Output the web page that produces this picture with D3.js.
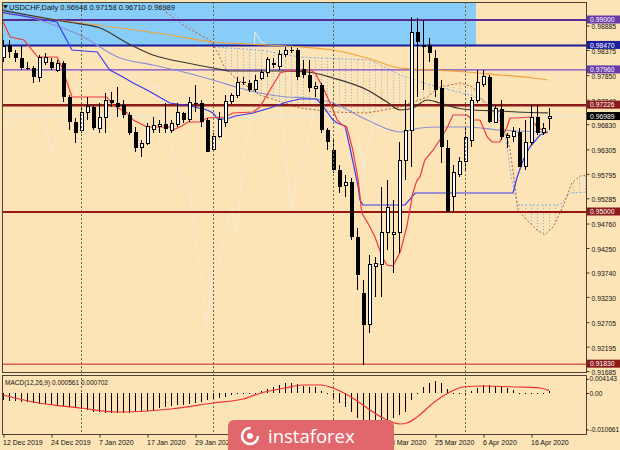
<!DOCTYPE html>
<html><head><meta charset="utf-8">
<script src="https://cdn.jsdelivr.net/npm/d3@7"></script>
<style>body{margin:0;background:#fde4b6}svg{display:block}text{font-family:"Liberation Sans",Arial,sans-serif}</style>
</head><body><svg id="c" width="620" height="450"></svg>
<script>
// ---------- DATA ----------
const open=[.98229,.98479,.98313,.98208,.98000,.98000,.97792,.98125,.98125,.97958,
.98104,.97396,.96875,.96708,.97083,.97188,.96750,.96979,.97333,.97271,
.97229,.97021,.96667,.96354,.96417,.96729,.96771,.96833,.96708,.96833,
.97063,.96917,.97271,.97271,.96917,.96292,.96563,.96875,.97292,.97417,
.97708,.97688,.97542,.97771,.97896,.98104,.98021,.98271,.98375,.98375,
.97979,.97854,.97583,.97646,.96708,.96292,.95875,.95542,.95625,.94479,
.93313,.92646,.93875,.93896,.94563,.94521,.94563,.96083,.96708,.98750,
.98438,.98479,.98208,.97583,.96333,.95313,.95771,.96042,.96500,.97333,
.97646,.97813,.96875,.97146,.96542,.96563,.96667,.95938,.96438,.96979,
.96646,.96948];
const high=[.98583,.98583,.98375,.98458,.98125,.98042,.98271,.98313,.98208,.98167,
.98146,.97438,.96958,.97188,.97396,.97229,.97271,.97479,.97500,.97604,
.97333,.97083,.96771,.96500,.96854,.96979,.96917,.97271,.96917,.97271,
.97083,.97396,.97646,.97333,.96958,.96646,.97083,.97438,.97479,.97813,
.97813,.97750,.97854,.97958,.98229,.98208,.98375,.98438,.98438,.98417,
.98167,.98167,.97708,.97688,.96750,.96500,.95979,.95771,.95708,.94667,
.93583,.94104,.94063,.95521,.95667,.95250,.96458,.97333,.99063,.99042,
.99000,.98625,.98375,.97750,.96500,.95979,.96146,.96750,.97396,.97958,
.97958,.97854,.97229,.97333,.96646,.96771,.96750,.96917,.97229,.97229,
.96854,.97158];
const low=[.98125,.98208,.98125,.97958,.97958,.97688,.97708,.98063,.97958,.97917,
.97292,.96708,.96438,.96646,.96917,.96708,.96646,.96646,.97188,.96979,
.96958,.96604,.96250,.96146,.96396,.96646,.96646,.96646,.96646,.96771,
.96854,.96875,.97083,.96771,.96250,.96292,.96542,.96771,.97250,.97375,
.97646,.97500,.97500,.97750,.97813,.98000,.97958,.98229,.98313,.97750,
.97792,.97500,.97396,.96646,.96292,.95813,.95396,.95313,.94417,.93375,
.91813,.92479,.93229,.93229,.94208,.93729,.94146,.95667,.95938,.97396,
.97542,.98125,.97396,.96021,.95000,.95000,.95729,.95875,.96354,.97271,
.97604,.96854,.96854,.96500,.96333,.96458,.95938,.95875,.96396,.96604,
.96604,.96710];
const close=[.98438,.98333,.98208,.98000,.97979,.97813,.98229,.98229,.98000,.98104,
.97396,.96875,.96646,.97083,.97208,.96750,.96979,.97333,.97271,.97188,
.97021,.96646,.96333,.96417,.96771,.96792,.96833,.96729,.96854,.97063,
.96917,.97271,.97250,.96875,.96250,.96563,.96917,.97292,.97417,.97708,
.97688,.97542,.97750,.97896,.98167,.98063,.98271,.98375,.98354,.97813,
.97854,.97583,.97625,.96708,.96458,.95875,.95521,.95625,.94479,.93688,
.92646,.93896,.93917,.94563,.95104,.94563,.96083,.96708,.98750,.98542,
.98479,.98313,.97542,.96354,.95000,.95813,.96042,.96542,.97333,.97688,
.97813,.96875,.97146,.96563,.96604,.96667,.95938,.96438,.96979,.96646,
.96750,.96989];

const macdMain=[-0.00205,-0.00234,-0.00234,-0.00263,-0.00263,-0.00292,-0.00322,-0.00322,-0.00351,-0.00380,
-0.00380,-0.00409,-0.00439,-0.00468,-0.00497,-0.00556,-0.00556,-0.00585,-0.00585,-0.00585,
-0.00585,-0.00585,-0.00556,-0.00556,-0.00526,-0.00497,-0.00439,-0.00409,-0.00380,-0.00351,
-0.00351,-0.00322,-0.00292,-0.00263,-0.00205,-0.00175,-0.00146,-0.00117,-0.00058,-0.00029,
0.00000,0.00015,0.00029,0.00058,0.00117,0.00175,0.00234,0.00292,0.00292,0.00263,
0.00205,0.00175,0.00175,0.00058,0.00000,-0.00146,-0.00292,-0.00409,-0.00556,-0.00731,
-0.00789,-0.00848,-0.00848,-0.00819,-0.00789,-0.00731,-0.00643,-0.00556,-0.00205,0.00000,
0.00175,0.00292,0.00351,0.00292,0.00117,0.00029,0.00029,0.00029,0.00058,0.00146,
0.00234,0.00234,0.00205,0.00175,0.00146,0.00088,0.00029,0.00029,0.00029,0.00029,
0.00029,0.00056];
const macdSignal=[[0,-0.00058],[5,-0.00263],[13,-0.00439],[19,-0.00556],[24,-0.00526],[28,-0.00468],
[35,-0.00292],[40,-0.00175],[43,0],[47,0.00146],[50,0.00234],[53,0.00234],[55,0.00146],[58,-0.00117],
[60.7,-0.00439],[63.3,-0.00731],[66.2,-0.00906],[67.3,-0.00877],[69,-0.00702],[71.7,-0.00292],
[74.5,0.00029],[76.7,0.00175],[80,0.00205],[85.7,0.00175],[89.5,0.00146],[91,0.00070]];

const tenkan=[[-0.5,.99104],[1.2,.98646],[3.5,.98583],[5.8,.98229],[9,.98229],[9.8,.98021],[11.5,.97396],
[17.3,.97396],[18.3,.97229],[20.7,.97063],[21.7,.96917],[24,.96771],[27.8,.96771],[28.3,.96708],
[29.8,.96792],[30.8,.96875],[32.8,.96875],[34,.96958],[37,.96979],[38.3,.97063],[41.7,.97083],
[42.8,.97188],[45,.97646],[46.2,.97896],[47.3,.97938],[51.2,.97958],[52,.97896],[53.3,.97604],
[54.5,.97271],[55.7,.96917],[56.5,.96813],[57.3,.96771],[58.3,.96292],[59.2,.95667],[59.8,.94979],
[60.8,.94771],[62,.94479],[63.2,.94063],[64,.93896],[65,.93875],[66.2,.94167],[67.3,.94688],
[68.3,.95396],[69,.95667],[69.5,.95729],[70.3,.96083],[71.7,.96292],[72.8,.96500],[74,.96750],
[75,.97021],[77.3,.97021],[78.3,.96917],[79.5,.96917],[80.7,.96563],[81.5,.96458],[82.8,.96458],
[84,.96771],[84.5,.96958],[85.7,.96958],[87.8,.96979],[89,.96771],[90.8,.96646]];
const kijun=[[-0.5,.99167],[9,.98958],[11.5,.98375],[15.7,.98333],[17.8,.97958],[20,.97813],[21.7,.97688],
[24,.97542],[27.8,.97271],[31.2,.97208],[34,.97125],[35,.97063],[35.8,.96938],[37.3,.96938],
[38.7,.97000],[41.7,.97063],[44.5,.97167],[47.3,.97292],[49.5,.97354],[52.3,.97354],[53.3,.97208],
[55,.96917],[55.7,.96854],[57,.96792],[57.8,.96354],[59.2,.95521],[59.5,.95250],[60,.95146],
[67,.95146],[68.7,.95396],[85,.95396],[85.7,.95729],[86.7,.96083],[87.8,.96354],[89.5,.96604],[90.8,.96667]];
const maDark=[[-0.5,.99208],[10.7,.98958],[16.2,.98833],[20.7,.98521],[25,.98271],[30.7,.98104],[35,.98000],
[37.8,.97938],[46.2,.97938],[50.7,.97917],[55,.97792],[60.7,.97542],[64,.97292],[66.2,.97125],
[68.3,.97167],[70.7,.97333],[72.8,.97271],[75.7,.97167],[78.3,.97125],[82.8,.97104],[85.7,.97083],[90.8,.97063]];
const maSlow=[[-0.5,.99250],[5,.99042],[12.8,.98688],[19.5,.98208],[25,.98063],[30.7,.97896],[35,.97750],
[39.5,.97583],[42.8,.97479],[47.3,.97396],[50.7,.97375],[55,.97271],[60.7,.96917],[66.2,.96667],
[69.5,.96750],[72.8,.96771],[77.3,.96771],[82.8,.96708],[90.8,.96667]];
const maOrange=[[-0.5,.99146],[19.5,.98833],[27.8,.98688],[35,.98542],[40.7,.98500],[49.5,.98438],[55,.98375],
[60.7,.98208],[66.2,.98000],[71.7,.97958],[77.3,.97917],[82.8,.97854],[88.3,.97792],[90.8,.97750]];
const spanA=[[25.3,.99417],[28.7,.99104],[32,.98792],[35,.98438],[42.8,.98375],[49.5,.98229],[61.2,.98167],
[66.2,.97854],[71.2,.97646],[77.8,.97438],[80,.97333],[82.5,.97125],[83.7,.96600],[84.8,.95667],
[85.7,.95146],[92.8,.95146],[94.5,.95396],[97.8,.95417]];
const spanB=[[24.5,.99417],[30.7,.98833],[34.5,.98583],[35.7,.98333],[37,.98000],[38.7,.97792],[42.8,.97438],
[49.5,.97167],[55,.97083],[60.7,.97063],[66.2,.97188],[70.7,.97396],[72.8,.97604],[76.2,.97688],
[78.3,.97604],[80.7,.97188],[82.3,.96979],[83.7,.96708],[84.5,.96292],[85.3,.95604],[85.8,.95042],
[87.3,.94833],[89,.94625],[90.3,.94521],[91.7,.94688],[93.3,.95104],[94.8,.95604],[96.2,.95750],[97.8,.95771]];

const priceTicks=[0.98885,0.98375,0.97850,0.97340,0.96830,0.96305,0.95795,0.95285,0.94760,0.94250,0.93740,0.93230,0.92705,0.92195,0.91685];
const levelValues=[0.99,0.9847,0.9796,0.97226,0.95,0.9183];
const macdTicks=[0.004143,0,-0.010661];
const macdTickLabels=["0.004143","0.00","-0.010661"];
// labels at 10 Feb, 20 Feb and 3 Mar are hidden under the watermark in the reference
const xTickIdx=[0,8,16,24,32,64,72,80,88];
const xTickLabels=["12 Dec 2019","24 Dec 2019","7 Jan 2020","17 Jan 2020","29 Jan 2020","13 Mar 2020","25 Mar 2020","6 Apr 2020","16 Apr 2020"];
const monthStartIdx=[13,35,55,77];
const headerText="USDCHF,Daily  0.96948 0.97158 0.96710 0.96989";
const macdText="MACD(12,26,9) 0.000561 0.000702";

// ---------- LAYOUT ----------
const L=2,R=586,T=2,PB=372,MT=375,MB=434;
const svg=d3.select("#c");
const x=d3.scaleLinear().domain([0,91]).range([3,549]);
const y=d3.scaleLinear().domain([0.99,0.92]).range([20,356]);
const ym=d3.scaleLinear().domain([0,-0.01]).range([393,427.2]);

svg.append("rect").attr("width",620).attr("height",450).attr("fill","#fde4b6");
const defs=svg.append("defs");
defs.append("clipPath").attr("id","cp").append("rect").attr("x",L).attr("y",T).attr("width",R-L).attr("height",PB-T);
defs.append("clipPath").attr("id","cm").append("rect").attr("x",L).attr("y",MT).attr("width",R-L).attr("height",MB-MT);

const gP=svg.append("g").attr("clip-path","url(#cp)");
gP.append("rect").attr("x",L).attr("y",T).attr("width",476-L).attr("height",y(0.9847)-T).attr("fill","#87cdf8");

gP.append("line").attr("x1",L).attr("x2",R).attr("y1",y(close[91])).attr("y2",y(close[91])).attr("stroke","#e9e4da").attr("stroke-width",1);

const chikou=[]; for(let i=26;i<close.length;i++) chikou.push([i-26,close[i]]);
const ln=d3.line().x(d=>x(d[0])).y(d=>y(d[1]));
gP.append("path").attr("d",ln(chikou)).attr("fill","none").attr("stroke","#f6ebd9").attr("stroke-width",1);

const sA=d3.scaleLinear().domain(spanA.map(d=>d[0])).range(spanA.map(d=>d[1]));
const sB=d3.scaleLinear().domain(spanB.map(d=>d[0])).range(spanB.map(d=>d[1]));
for(let k=26;k<=98;k++){
  const a=sA(k),b=sB(k);
  gP.append("line").attr("x1",x(k)+0.5).attr("x2",x(k)+0.5).attr("y1",y(a)).attr("y2",y(b))
    .attr("stroke","#86b0ea").attr("stroke-width",1).attr("stroke-dasharray","1,2");
}
gP.append("path").attr("d",ln(spanA)).attr("fill","none").attr("stroke","#86aee6").attr("stroke-width",1).attr("stroke-dasharray","2,2");
gP.append("path").attr("d",ln(spanB)).attr("fill","none").attr("stroke","#b0623c").attr("stroke-width",1).attr("stroke-dasharray","2,2");

const levelColors=["#552a96","#1b1b9c","#7a48cc","#8b1a1a","#9e1414","#c42020"];
const levelWidths=[2,2,1.3,2.5,2,1];
levelValues.forEach((v,i)=>{
  gP.append("line").attr("x1",L).attr("x2",R).attr("y1",y(v)).attr("y2",y(v)).attr("stroke",levelColors[i]).attr("stroke-width",levelWidths[i]);
});

monthStartIdx.forEach(i=>{
  svg.append("line").attr("x1",x(i)+0.5).attr("x2",x(i)+0.5).attr("y1",T).attr("y2",MB)
   .attr("stroke","#6e6252").attr("stroke-width",1).attr("stroke-dasharray","2,2");
});

const lc=d3.line().x(d=>x(d[0])).y(d=>y(d[1])).curve(d3.curveMonotoneX);
gP.append("path").attr("d",lc(maOrange)).attr("fill","none").attr("stroke","#f0a23a").attr("stroke-width",1.2);
gP.append("path").attr("d",lc(maSlow)).attr("fill","none").attr("stroke","#8d8fd8").attr("stroke-width",1.2);
gP.append("path").attr("d",lc(maDark)).attr("fill","none").attr("stroke","#3a3530").attr("stroke-width",1.2);
gP.append("path").attr("d",ln(kijun)).attr("fill","none").attr("stroke","#3a3af0").attr("stroke-width",1.2);
gP.append("path").attr("d",ln(tenkan)).attr("fill","none").attr("stroke","#f03a3a").attr("stroke-width",1.2);

const gC=gP.append("g").attr("shape-rendering","crispEdges");
open.forEach((o,i)=>{
  const c=close[i],cx=Math.round(x(i));
  gC.append("line").attr("x1",cx+0.5).attr("x2",cx+0.5).attr("y1",y(high[i])).attr("y2",y(low[i])).attr("stroke","#000");
  const top=y(Math.max(o,c)),bot=y(Math.min(o,c));
  const h=Math.max(1,bot-top);
  if(c>=o){
    gC.append("rect").attr("x",cx-1).attr("y",top).attr("width",3).attr("height",h).attr("fill","#fff").attr("stroke","#000").attr("stroke-width",1);
  }else{
    gC.append("rect").attr("x",cx-1.5).attr("y",top).attr("width",4).attr("height",h).attr("fill","#000");
  }
});

const gM=svg.append("g").attr("clip-path","url(#cm)");
gM.append("g").attr("shape-rendering","crispEdges").selectAll("line").data(macdMain).join("line")
  .attr("x1",(d,i)=>Math.round(x(i))+0.5).attr("x2",(d,i)=>Math.round(x(i))+0.5)
  .attr("y1",ym(0)).attr("y2",d=>Math.abs(ym(d)-ym(0))<1?ym(0)+1:ym(d)).attr("stroke","#000").attr("stroke-width",1);
gM.append("path").attr("d",d3.line().x(d=>x(d[0])).y(d=>ym(d[1])).curve(d3.curveMonotoneX)(macdSignal))
  .attr("fill","none").attr("stroke","#f03030").attr("stroke-width",1.2);

const fr=svg.append("g").attr("fill","none").attr("stroke","#4a4238").attr("stroke-width",1).attr("shape-rendering","crispEdges");
fr.append("rect").attr("x",L+0.5).attr("y",T+0.5).attr("width",R-L).attr("height",PB-T);
fr.append("rect").attr("x",L+0.5).attr("y",MT+0.5).attr("width",R-L).attr("height",MB-MT);

const axR=svg.append("g").attr("transform",`translate(${R+0.5},0)`)
  .call(d3.axisRight(y).tickValues(priceTicks).tickFormat(d3.format(".5f")).tickSize(3).tickPadding(2));
axR.select(".domain").remove();
axR.selectAll("text").attr("font-size",6.8).attr("fill","#111").attr("dy","0.5em").style("font-family","Liberation Sans, Arial, sans-serif");
axR.selectAll("line").attr("stroke","#333");

const axM=svg.append("g").attr("transform",`translate(${R+0.5},0)`)
  .call(d3.axisRight(ym).tickValues(macdTicks).tickFormat((d,i)=>macdTickLabels[i]).tickSize(2).tickPadding(1));
axM.select(".domain").remove();
axM.selectAll("text").attr("font-size",6.6).attr("fill","#111").style("font-family","Liberation Sans, Arial, sans-serif");

const labelBg=["#6a3aa8","#1d1d9f","#6a3aa8","#8b1a1a","#000000","#8b1a1a","#8b1a1a"];
const labelVals=[0.99,0.9847,0.9796,0.97226,close[91],0.95,0.9183];
labelVals.forEach((v,i)=>{
  const yy=y(v);
  svg.append("rect").attr("x",R+1).attr("y",yy-4.5).attr("width",33).attr("height",8).attr("fill",labelBg[i]);
  svg.append("text").attr("x",R+4).attr("y",yy+2.3).attr("font-size",6.8).attr("fill","#fff").text(d3.format(".5f")(v));
});

const axX=svg.append("g").attr("transform",`translate(0.5,${MB+0.5})`)
  .call(d3.axisBottom(x).tickValues(xTickIdx).tickFormat((d,i)=>xTickLabels[i]).tickSize(3).tickPadding(3));
axX.select(".domain").remove();
axX.selectAll("text").attr("font-size",7).attr("fill","#111").attr("text-anchor","start").attr("x",-1).style("font-family","Liberation Sans, Arial, sans-serif");
axX.selectAll("line").attr("stroke","#333");

svg.append("path").attr("d","M3,5 L8,5 L5.5,9 Z").attr("fill","#222");
svg.append("text").attr("x",9).attr("y",10).attr("font-size",7.5).attr("fill","#111").text(headerText);
svg.append("text").attr("x",5).attr("y",385).attr("font-size",6.5).attr("fill","#111").text(macdText);

const wm=svg.append("g");
wm.append("rect").attr("x",228).attr("y",420).attr("width",166).attr("height",40).attr("rx",6).attr("fill","#e2676c");
wm.append("circle").attr("cx",250).attr("cy",436).attr("r",8).attr("fill","none").attr("stroke","#fff").attr("stroke-width",2.5).attr("stroke-dasharray","38,12");
wm.append("circle").attr("cx",250).attr("cy",436).attr("r",3).attr("fill","#fff");
wm.append("text").attr("x",268).attr("y",443).attr("font-size",18.5).attr("fill","#fff").style("font-family","Open Sans, Liberation Sans, sans-serif").text("instaforex");
</script></body></html>
